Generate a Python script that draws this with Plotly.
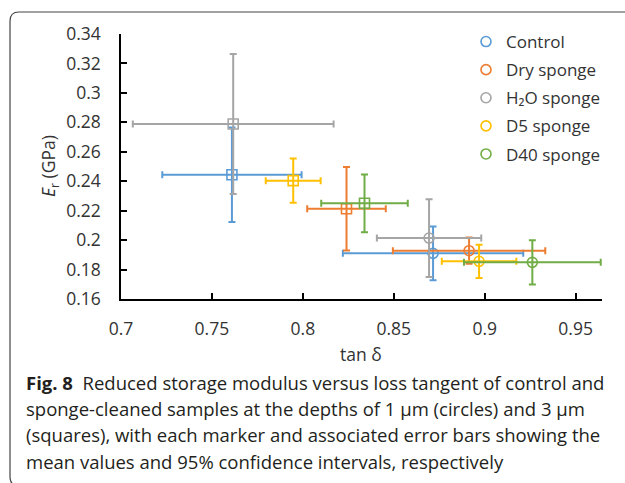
import plotly.graph_objects as go

# ---- data ----
series = ["Control", "Dry sponge", "H₂O sponge", "D5 sponge", "D40 sponge"]
colors = ["#5B9BD5", "#ED7D31", "#A5A5A5", "#FFC000", "#70AD47"]

# depth 1 µm (circles)
tan_1um = [0.8716, 0.8914, 0.8694, 0.8969, 0.9262]
tan_err_1um = [0.0496, 0.0419, 0.0287, 0.0205, 0.0376]
er_1um = [0.1910, 0.1928, 0.2014, 0.1856, 0.1849]
er_err_1um = [0.0183, 0.0089, 0.0264, 0.0113, 0.0150]

# depth 3 µm (squares)
tan_3um = [0.7610, 0.8240, 0.7617, 0.7947, 0.8339]
tan_err_3um = [0.0383, 0.0216, 0.0552, 0.0151, 0.0238]
er_3um = [0.2444, 0.2213, 0.2789, 0.2404, 0.2250]
er_err_3um = [0.0321, 0.0283, 0.0476, 0.0150, 0.0196]

x_ticks = [0.7, 0.75, 0.8, 0.85, 0.9, 0.95]
x_tick_text = ["0.7", "0.75", "0.8", "0.85", "0.9", "0.95"]
y_ticks = [0.16, 0.18, 0.2, 0.22, 0.24, 0.26, 0.28, 0.3, 0.32, 0.34]
y_tick_text = ["0.16", "0.18", "0.2", "0.22", "0.24", "0.26", "0.28", "0.3", "0.32", "0.34"]

caption_lines = [
    "<b>Fig. 8</b>\u00a0\u00a0Reduced storage modulus versus loss tangent of control and",
    "sponge-cleaned samples at the depths of 1 µm (circles) and 3 µm",
    "(squares), with each marker and associated error bars showing the",
    "mean values and 95% confidence intervals, respectively",
]

# ---- layout geometry ----
W, H = 625, 483
L, R, T, B = 121, 23, 34, 184
PW, PH = W - L - R, H - T - B


def px(x):
    return (x - L) / PW


def py(y):
    return (H - B - y) / PH


FONT = "Open Sans"
fig = go.Figure()

for i, name in enumerate(series):
    fig.add_trace(go.Scatter(
        x=[tan_1um[i], tan_3um[i]],
        y=[er_1um[i], er_3um[i]],
        mode="markers",
        name=name,
        legendgroup=name,
        marker=dict(symbol=["circle-open", "square-open"], size=10,
                    color=colors[i], line=dict(width=1.6, color=colors[i])),
        error_x=dict(type="data", array=[tan_err_1um[i], tan_err_3um[i]],
                     color=colors[i], thickness=2, width=3.5),
        error_y=dict(type="data", array=[er_err_1um[i], er_err_3um[i]],
                     color=colors[i], thickness=2, width=3.5),
    ))

annotations = []
for k, line in enumerate(caption_lines):
    annotations.append(dict(
        text=line, xref="paper", yref="paper", x=px(24), y=py(382 + 26.4 * k),
        xanchor="left", yanchor="middle", showarrow=False,
        font=dict(family=FONT, size=18.5, color="#231F20")))

annotations.append(dict(text="tan δ", xref="paper", yref="paper",
                        x=px(361), y=py(354), xanchor="center", yanchor="middle",
                        showarrow=False, font=dict(family=FONT, size=17.5, color="#333")))
annotations.append(dict(text="<i>E</i><sub>r</sub> (GPa)", xref="paper", yref="paper",
                        x=px(49), y=py(166), xanchor="center", yanchor="middle",
                        textangle=-90, showarrow=False,
                        font=dict(family=FONT, size=17.5, color="#333")))

r = 9
border = (f"M {px(700)} {py(12)} L {px(10 + r)} {py(12)} "
          f"Q {px(10)} {py(12)} {px(10)} {py(12 + r)} "
          f"L {px(10)} {py(486 - r)} Q {px(10)} {py(486)} {px(10 + r)} {py(486)} "
          f"L {px(700)} {py(486)}")

fig.update_layout(
    width=W, height=H,
    margin=dict(l=L, r=R, t=T, b=B, pad=0),
    paper_bgcolor="white", plot_bgcolor="white",
    font=dict(family=FONT, size=17, color="#333"),
    showlegend=True,
    legend=dict(x=px(466), y=py(24), xanchor="left", yanchor="top",
                bgcolor="rgba(0,0,0,0)", font=dict(family=FONT, size=17, color="#333"),
                itemwidth=30, tracegroupgap=3, traceorder="grouped"),
    annotations=annotations,
    shapes=[dict(type="path", path=border, xref="paper", yref="paper",
                 line=dict(color="#444", width=1.2), layer="above")],
)
fig.update_xaxes(range=[0.7, 0.9645], tickvals=x_ticks, ticktext=x_tick_text,
                 showgrid=False, zeroline=False, showline=True, linecolor="black",
                 linewidth=1.5, ticks="inside", ticklen=6, tickwidth=1.5,
                 tickcolor="black", ticklabelstandoff=13,
                 tickfont=dict(family=FONT, size=17.5, color="#333"))
fig.update_yaxes(range=[0.16, 0.34], tickvals=y_ticks, ticktext=y_tick_text,
                 showgrid=False, zeroline=False, showline=True, linecolor="black",
                 linewidth=1.5, ticks="inside", ticklen=6, tickwidth=1.5,
                 tickcolor="black", ticklabelstandoff=15,
                 tickfont=dict(family=FONT, size=17.5, color="#333"))

fig.write_html("out.html")
